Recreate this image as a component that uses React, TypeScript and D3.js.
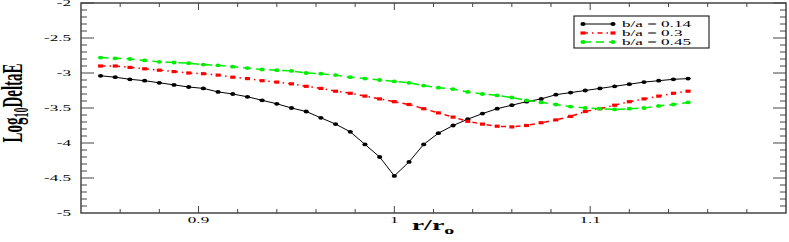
import React, { useRef, useEffect } from 'react'
import * as d3 from 'd3'

// r/r0 sample positions
const rValues = [
  0.85, 0.8575, 0.865, 0.8725, 0.88, 0.8875, 0.895, 0.9025, 0.91, 0.9175, 0.925, 0.9325, 0.94, 0.9475,
  0.955, 0.9625, 0.97, 0.9775, 0.985, 0.9925, 1.0, 1.0075, 1.015, 1.0225, 1.03, 1.0375, 1.045, 1.0525,
  1.06, 1.0675, 1.075, 1.0825, 1.09, 1.0975, 1.105, 1.1125, 1.12, 1.1275, 1.135, 1.1425, 1.15,
]

const ba014 = [
  -3.04, -3.06, -3.09, -3.11, -3.14, -3.17, -3.2, -3.22, -3.27, -3.3, -3.34, -3.39, -3.44, -3.5, -3.55,
  -3.64, -3.73, -3.84, -4.02, -4.2, -4.47, -4.27, -4.02, -3.86, -3.75, -3.66, -3.58, -3.51, -3.46, -3.41,
  -3.37, -3.31, -3.28, -3.25, -3.22, -3.19, -3.16, -3.13, -3.11, -3.09, -3.08,
]

const ba03 = [
  -2.9, -2.9, -2.92, -2.94, -2.96, -2.98, -3.0, -3.01, -3.03, -3.06, -3.08, -3.11, -3.13, -3.155, -3.19,
  -3.22, -3.26, -3.29, -3.33, -3.37, -3.41, -3.45, -3.51, -3.57, -3.63, -3.69, -3.73, -3.76, -3.77, -3.75,
  -3.71, -3.67, -3.62, -3.55, -3.51, -3.46, -3.41, -3.37, -3.33, -3.29, -3.26,
]

const ba045 = [
  -2.78, -2.79, -2.8, -2.82, -2.84, -2.85, -2.86, -2.88, -2.89, -2.91, -2.93, -2.95, -2.96, -2.97, -3.0,
  -3.01, -3.03, -3.06, -3.08, -3.1, -3.12, -3.14, -3.18, -3.21, -3.23, -3.27, -3.3, -3.32, -3.35, -3.39,
  -3.42, -3.45, -3.48, -3.5, -3.51, -3.52, -3.51, -3.5, -3.47, -3.45, -3.42,
]

const seriesNames = ['b/a = 0.14', 'b/a = 0.3', 'b/a = 0.45']
const xTickLabels = [0.9, 1, 1.1]
const yTickLabels = [-2, -2.5, -3, -3.5, -4, -4.5, -5]

const W = 789
const H = 242
const plot = { left: 81, right: 786, top: 3, bottom: 213 }
const font = '"Liberation Serif", "Times New Roman", serif'
const stretch = 1.9

const styles = [
  { color: '#000000', dash: null, marker: 'circle', width: 1 },
  { color: '#ff0000', dash: '5,4,1.5,4', marker: 'rect', width: 1.5 },
  { color: '#00ee00', dash: '8,5', marker: 'circle', width: 1.5 },
]

const App = () => {
  const svgRef = useRef<SVGSVGElement | null>(null)

  useEffect(() => {
    const svg = d3.select(svgRef.current)
    svg.selectAll('*').remove()

    const x = d3.scaleLinear().domain([0.84, 1.2]).range([plot.left, plot.right])
    const y = d3.scaleLinear().domain([-5, -2]).range([plot.bottom, plot.top])

    const axisColor = '#444'
    const g = svg.append('g')

    // ticks (inward on all four sides)
    const xMinor = d3.range(0.86, 1.2, 0.02)
    const yMinor = d3.range(-4.9, -2.0, 0.1)
    const isMajor = (v: number, step: number) => Math.abs(v / step - Math.round(v / step)) < 1e-6

    xMinor.forEach((v) => {
      const len = isMajor(v, 0.1) ? 7 : 4
      g.append('line').attr('x1', x(v)).attr('x2', x(v)).attr('y1', plot.bottom).attr('y2', plot.bottom - len)
        .attr('stroke', axisColor).attr('stroke-width', 1)
      g.append('line').attr('x1', x(v)).attr('x2', x(v)).attr('y1', plot.top).attr('y2', plot.top + len)
        .attr('stroke', axisColor).attr('stroke-width', 1)
    })
    yMinor.forEach((v) => {
      const len = isMajor(v, 0.5) ? 13 : 6
      g.append('line').attr('x1', plot.left).attr('x2', plot.left + len).attr('y1', y(v)).attr('y2', y(v))
        .attr('stroke', axisColor).attr('stroke-width', 1)
      g.append('line').attr('x1', plot.right).attr('x2', plot.right - len).attr('y1', y(v)).attr('y2', y(v))
        .attr('stroke', axisColor).attr('stroke-width', 1)
    })

    // frame
    g.append('rect')
      .attr('x', plot.left).attr('y', plot.top)
      .attr('width', plot.right - plot.left).attr('height', plot.bottom - plot.top)
      .attr('fill', 'none').attr('stroke', axisColor).attr('stroke-width', 1.5)

    // tick labels
    xTickLabels.forEach((v) => {
      g.append('text')
        .attr('transform', `translate(${x(v)},${plot.bottom + 10}) scale(${stretch},1)`)
        .attr('text-anchor', 'middle')
        .attr('font-family', font).attr('font-size', 9).attr('fill', '#000')
        .text(String(v))
    })
    yTickLabels.forEach((v) => {
      g.append('text')
        .attr('transform', `translate(${plot.left - 10},${y(v) + 3}) scale(${stretch},1)`)
        .attr('text-anchor', 'end')
        .attr('font-family', font).attr('font-size', 9).attr('fill', '#000')
        .text(String(v))
    })

    // axis titles
    const xt = g.append('text')
      .attr('transform', `translate(433,230) scale(2,1)`)
      .attr('text-anchor', 'middle')
      .attr('font-family', font).attr('font-size', 14).attr('font-weight', 'bold')
    xt.append('tspan').text('r/r')
    xt.append('tspan').attr('font-size', 10).attr('dy', 4).text('o')

    const yt = g.append('text')
      .attr('transform', `translate(22,103) rotate(-90) scale(1,2)`)
      .attr('text-anchor', 'middle')
      .attr('font-family', font).attr('font-size', 15).attr('font-weight', 'bold')
    yt.append('tspan').text('Log')
    yt.append('tspan').attr('font-size', 10).attr('dy', 3).text('10')
    yt.append('tspan').attr('dy', -3).text('DeltaE')

    // series
    const allSeries = [ba014, ba03, ba045]
    const line = d3.line<[number, number]>().x((d) => x(d[0])).y((d) => y(d[1]))

    const drawMarker = (sel: any, style: any, cx: number, cy: number) => {
      if (style.marker === 'rect') {
        sel.append('rect').attr('x', cx - 2.5).attr('y', cy - 1.6).attr('width', 5).attr('height', 3.2)
          .attr('fill', style.color)
      } else {
        sel.append('ellipse').attr('cx', cx).attr('cy', cy).attr('rx', 2.6).attr('ry', 1.9)
          .attr('fill', style.color)
      }
    }

    allSeries.forEach((vals, i) => {
      const st = styles[i]
      const pts = rValues.map((r, k) => [r, vals[k]] as [number, number])
      const s = g.append('g')
      s.append('path')
        .attr('d', line(pts))
        .attr('fill', 'none')
        .attr('stroke', st.color)
        .attr('stroke-width', st.width)
        .attr('stroke-dasharray', st.dash)
      pts.forEach((p) => drawMarker(s, st, x(p[0]), y(p[1])))
    })

    // legend
    const lg = g.append('g')
    lg.append('rect').attr('x', 574).attr('y', 16).attr('width', 135).attr('height', 32)
      .attr('fill', '#fff').attr('stroke', '#000').attr('stroke-width', 1)
    seriesNames.forEach((name, i) => {
      const st = styles[i]
      const ly = 24 + i * 9
      lg.append('line').attr('x1', 583).attr('x2', 613).attr('y1', ly).attr('y2', ly)
        .attr('stroke', st.color).attr('stroke-width', st.width).attr('stroke-dasharray', st.dash)
      drawMarker(lg, st, 583, ly)
      drawMarker(lg, st, 613, ly)
      lg.append('text')
        .attr('transform', `translate(622,${ly + 3}) scale(${stretch},1)`)
        .attr('font-family', font).attr('font-size', 9).attr('fill', '#000')
        .text(name)
    })
  }, [])

  return (
    <svg
      ref={svgRef}
      width={W}
      height={H}
      style={{ position: 'absolute', left: 0, top: 0, background: '#fff' }}
    />
  )
}

export default App
